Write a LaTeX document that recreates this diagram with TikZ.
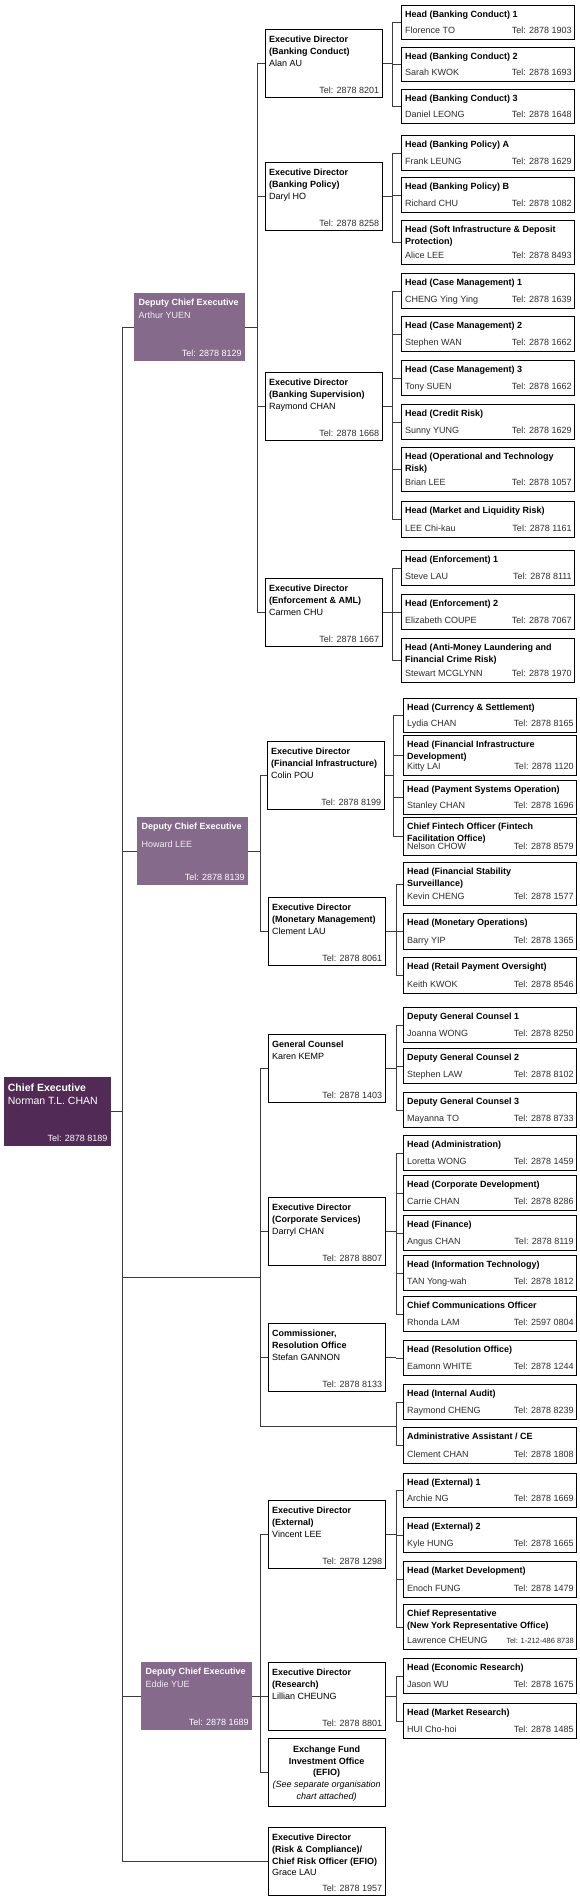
\documentclass[tikz,border=0pt]{standalone}
\usepackage{fontspec}
\setmainfont{Liberation Sans}
\usepackage{xcolor}
\usepackage{tikz}
\usetikzlibrary{positioning,calc}
\definecolor{cepurple}{RGB}{82, 42, 86}
\definecolor{dcepurple}{RGB}{133, 106, 139}
\definecolor{linegray}{RGB}{60, 60, 60}
\definecolor{namegray}{RGB}{45, 45, 45}

\begin{document}
\begin{tikzpicture}[x=1pt, y=-1pt,
    every node/.style={font=\fontsize{9}{11.8}\selectfont, inner sep=0pt},
    headbox/.style={draw=black, line width=1.4pt, fill=white, minimum width=173pt, anchor=north west},
    edbox/.style={draw=black, line width=1.4pt, fill=white, minimum width=117pt, minimum height=68pt, anchor=north west},
    dcebox/.style={fill=dcepurple, minimum width=111pt, minimum height=68pt, anchor=north west},
    ttl/.style={font=\fontsize{9}{11.8}\selectfont\bfseries, align=left, anchor=north west},
    who/.style={text=namegray},
    link/.style={draw=linegray, line width=0.75pt}]
    \useasboundingbox (0,0) rectangle (580,1899);

    % Chief Executive
    \node[fill=cepurple, minimum width=107pt, minimum height=68.5pt, anchor=north west] (ce) at (3.7,1077) {};
    \node[align=left, anchor=north west, text=white, font=\fontsize{10.5}{13.3}\selectfont] (ce-t) at ([xshift=4pt,yshift=-6.5pt]ce.north west) {\textbf{Chief Executive}\\Norman T.L. CHAN};
    \node[anchor=base east, text=white] (ce-p) at ([xshift=-3.5pt,yshift=4.5pt]ce.south east) {Tel: 2878 8189};

    % Deputy Chief Executives
    \foreach \nm/\dx/\ty/\gap/\who/\tel in {
        arthur/134/293/1/{Arthur YUEN}/{2878 8129},
        howard/137/817/6/{Howard LEE}/{2878 8139},
        eddie/141/1662/1/{Eddie YUE}/{2878 1689}%
    }{
        \node[dcebox] (\nm) at (\dx,\ty) {};
        \node[align=left, anchor=north west, text=white] (\nm-t) at ([xshift=4.5pt,yshift=-6.2pt]\nm.north west) {\textbf{Deputy Chief Executive}\\[\gap pt]\textcolor{white!88!dcepurple}{\who}};
        \node[anchor=base east, text=white] (\nm-p) at ([xshift=-3.5pt,yshift=5.2pt]\nm.south east) {Tel: \tel};
    }

    % Executive Directors
    \foreach \nm/\ex/\ty/\txt/\tel in {
        edbc/264.5/29/{\textbf{Executive Director}\\\textbf{(Banking Conduct)}\\Alan AU}/{2878 8201},
        edbp/264.5/162/{\textbf{Executive Director}\\\textbf{(Banking Policy)}\\Daryl HO}/{2878 8258},
        edbs/264.5/372/{\textbf{Executive Director}\\\textbf{(Banking Supervision)}\\Raymond CHAN}/{2878 1668},
        edea/264.5/578/{\textbf{Executive Director}\\\textbf{(Enforcement \& AML)}\\Carmen CHU}/{2878 1667},
        edfi/266.5/741/{\textbf{Executive Director}\\\textbf{(Financial Infrastructure)}\\Colin POU}/{2878 8199},
        edmm/267.5/897/{\textbf{Executive Director}\\\textbf{(Monetary Management)}\\Clement LAU}/{2878 8061},
        gc/267.5/1034/{\textbf{General Counsel}\\Karen KEMP}/{2878 1403},
        edcs/267.5/1197/{\textbf{Executive Director}\\\textbf{(Corporate Services)}\\Darryl CHAN}/{2878 8807},
        cro/267.5/1323/{\textbf{Commissioner,}\\\textbf{Resolution Office}\\Stefan GANNON}/{2878 8133},
        edex/267.5/1500/{\textbf{Executive Director}\\\textbf{(External)}\\Vincent LEE}/{2878 1298},
        edre/267.5/1662/{\textbf{Executive Director}\\\textbf{(Research)}\\Lillian CHEUNG}/{2878 8801},
        edrc/267.5/1827/{\textbf{Executive Director}\\\textbf{(Risk \& Compliance)/}\\\textbf{Chief Risk Officer (EFIO)}\\Grace LAU}/{2878 1957}%
    }{
        \node[edbox] (\nm) at (\ex,\ty) {};
        \node[align=left, anchor=north west] (\nm-t) at ([xshift=4.5pt,yshift=-6.8pt]\nm.north west) {\txt};
        \node[who, anchor=base east] (\nm-p) at ([xshift=-3.5pt,yshift=5.2pt]\nm.south east) {Tel: \tel};
    }

    % Exchange Fund Investment Office
    \node[edbox] (efio) at (267.5,1738) {};
    \node[align=center, anchor=north] (efio-t) at ([yshift=-7.6pt]efio.north) {\textbf{Exchange Fund}\\\textbf{Investment Office}\\\textbf{(EFIO)}\\\textit{(See separate organisation}\\\textit{chart attached)}};

    % Heads
    \foreach \nm/\hx/\ty/\hh/\ttl/\who/\tel in {
        bc1/401/5/34/{Head (Banking Conduct) 1}/{Florence TO}/{Tel: 2878 1903},
        bc2/401/47/34/{Head (Banking Conduct) 2}/{Sarah KWOK}/{Tel: 2878 1693},
        bc3/401/89/34/{Head (Banking Conduct) 3}/{Daniel LEONG}/{Tel: 2878 1648},
        bpa/401/135/35/{Head (Banking Policy) A}/{Frank LEUNG}/{Tel: 2878 1629},
        bpb/401/177/35/{Head (Banking Policy) B}/{Richard CHU}/{Tel: 2878 1082},
        sidp/401/220/44/{Head (Soft Infrastructure \& Deposit\\Protection)}/{Alice LEE}/{Tel: 2878 8493},
        cm1/401/273/35/{Head (Case Management) 1}/{CHENG Ying Ying}/{Tel: 2878 1639},
        cm2/401/316/35/{Head (Case Management) 2}/{Stephen WAN}/{Tel: 2878 1662},
        cm3/401/360/35/{Head (Case Management) 3}/{Tony SUEN}/{Tel: 2878 1662},
        cr/401/404/35/{Head (Credit Risk)}/{Sunny YUNG}/{Tel: 2878 1629},
        otr/401/447/44/{Head (Operational and Technology\\Risk)}/{Brian LEE}/{Tel: 2878 1057},
        mlr/401/501/36/{Head (Market and Liquidity Risk)}/{LEE Chi-kau}/{Tel: 2878 1161},
        en1/401/550/35/{Head (Enforcement) 1}/{Steve LAU}/{Tel: 2878 8111},
        en2/401/594/35/{Head (Enforcement) 2}/{Elizabeth COUPE}/{Tel: 2878 7067},
        aml/401/638/44/{Head (Anti-Money Laundering and\\Financial Crime Risk)}/{Stewart MCGLYNN}/{Tel: 2878 1970},
        cs/403/698/34/{Head (Currency \& Settlement)}/{Lydia CHAN}/{Tel: 2878 8165},
        fid/403/735/40/{Head (Financial Infrastructure\\Development)}/{Kitty LAI}/{Tel: 2878 1120},
        pso/403/780/34/{Head (Payment Systems Operation)}/{Stanley CHAN}/{Tel: 2878 1696},
        cfo/403/817/38/{Chief Fintech Officer (Fintech\\Facilitation Office)}/{Nelson CHOW}/{Tel: 2878 8579},
        fss/403/862/43/{Head (Financial Stability\\Surveillance)}/{Kevin CHENG}/{Tel: 2878 1577},
        mo/403/913/36/{Head (Monetary Operations)}/{Barry YIP}/{Tel: 2878 1365},
        rpo/403/957/36/{Head (Retail Payment Oversight)}/{Keith KWOK}/{Tel: 2878 8546},
        dgc1/403/1007/35/{Deputy General Counsel 1}/{Joanna WONG}/{Tel: 2878 8250},
        dgc2/403/1048/35/{Deputy General Counsel 2}/{Stephen LAW}/{Tel: 2878 8102},
        dgc3/403/1092/35/{Deputy General Counsel 3}/{Mayanna TO}/{Tel: 2878 8733},
        adm/403/1135/35/{Head (Administration)}/{Loretta WONG}/{Tel: 2878 1459},
        cd/403/1175/35/{Head (Corporate Development)}/{Carrie CHAN}/{Tel: 2878 8286},
        fin/403/1215/35/{Head (Finance)}/{Angus CHAN}/{Tel: 2878 8119},
        it/403/1255/35/{Head (Information Technology)}/{TAN Yong-wah}/{Tel: 2878 1812},
        cco/403/1296/35/{Chief Communications Officer}/{Rhonda LAM}/{Tel: 2597 0804},
        ro/403/1340/35/{Head (Resolution Office)}/{Eamonn WHITE}/{Tel: 2878 1244},
        ia/403/1384/35/{Head (Internal Audit)}/{Raymond CHENG}/{Tel: 2878 8239},
        aace/403/1427/36/{Administrative Assistant / CE}/{Clement CHAN}/{Tel: 2878 1808},
        ex1/403/1473/34/{Head (External) 1}/{Archie NG}/{Tel: 2878 1669},
        ex2/403/1517/35/{Head (External) 2}/{Kyle HUNG}/{Tel: 2878 1665},
        md/403/1561/36/{Head (Market Development)}/{Enoch FUNG}/{Tel: 2878 1479},
        rep/403/1604/45/{Chief Representative\\(New York Representative Office)}/{Lawrence CHEUNG}/{\fontsize{7.5}{9}\selectfont Tel: 1-212-486 8738},
        er/403/1658/35/{Head (Economic Research)}/{Jason WU}/{Tel: 2878 1675},
        mr/403/1703/35/{Head (Market Research)}/{HUI Cho-hoi}/{Tel: 2878 1485}%
    }{
        \node[headbox, minimum height=\hh*1pt] (\nm) at (\hx,\ty) {};
        \node[ttl] (\nm-t) at ([xshift=4pt,yshift=-6.2pt]\nm.north west) {\ttl};
        \node[who, anchor=base west] (\nm-n) at ([xshift=4pt,yshift=6.5pt]\nm.south west) {\who};
        \node[who, anchor=base east] (\nm-p) at ([xshift=-3.5pt,yshift=6.5pt]\nm.south east) {\tel};
    }

    % Reporting lines
    \foreach \p/\bx/\kids in {
        edbc/392/{bc1,bc2,bc3},
        edbp/392/{bpa,bpb,sidp},
        edbs/392/{cm1,cm2,cm3,cr,otr,mlr},
        edea/392/{en1,en2,aml},
        edfi/393/{cs,fid,pso,cfo},
        edmm/396/{fss,mo,rpo},
        gc/396/{dgc1,dgc2,dgc3},
        edcs/396/{adm,cd,fin,it,cco},
        cro/396/{ro},
        edex/396/{ex1,ex2,md,rep},
        edre/396/{er,mr},
        arthur/257/{edbc,edbp,edbs,edea},
        howard/260/{edfi,edmm},
        eddie/260/{edex,edre,efio},
        ce/122/{arthur,howard,eddie,edrc}%
    }{
        \coordinate (\p-bus) at (\bx,0);
        \draw[link] (\p.east) -- (\p.east -| \p-bus);
        \foreach \c in \kids {
            \draw[link] (\p.east -| \p-bus) -- (\p-bus |- \c.west) -- (\c.west);
        }
    }

    % Offices reporting to the Chief Executive
    \coordinate (cedir) at (260,1277);
    \coordinate (iaj) at (260,1426);
    \coordinate (ia-bus) at (396,0);
    \draw[link] (ce-bus |- cedir) -- (cedir);
    \draw[link] (cedir |- gc.west) -- (iaj) -- (iaj -| ia-bus);
    \foreach \c in {gc,edcs,cro}
        \draw[link] (cedir |- \c.west) -- (\c.west);
    \foreach \c in {ia,aace}
        \draw[link] (iaj -| ia-bus) -- (ia-bus |- \c.west) -- (\c.west);
\end{tikzpicture}
\end{document}
